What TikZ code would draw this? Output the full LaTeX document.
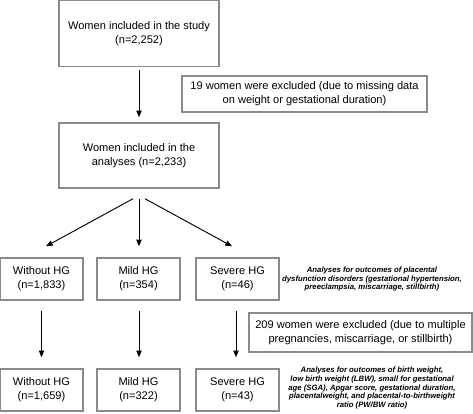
\documentclass[tikz,border=0pt]{standalone}
\usepackage{fontspec}
\setmainfont{Liberation Sans}
\usepackage{tikz}
\usetikzlibrary{arrows.meta}
\usetikzlibrary{calc}
\definecolor{boxgray}{RGB}{138,138,138}

\begin{document}
\begin{tikzpicture}[x=0.75pt,y=0.75pt,yscale=-1,xscale=1,
  flowbox/.style={draw=boxgray,line width=1.1pt,fill=white,align=center,inner sep=0pt,
    font=\fontsize{8.3}{10.5}\selectfont},
  rowbox/.style={flowbox,minimum width=62.25pt,minimum height=31.5pt},
  notetext/.style={align=center,inner sep=0pt,font=\fontsize{5.8}{6.5}\selectfont\bfseries\itshape},
  arr/.style={line width=0.7pt,-{Triangle[length=5pt,width=4pt]}}]
%set diagram left start at 0, and has height of 413
\useasboundingbox (0,0) rectangle (473,413);

%Shape: Rectangle [study]
\node (study) [flowbox,minimum width=120pt,minimum height=49.5pt] at (139,33.5) {Women included in the study\\(n=2,252)};
%Shape: Rectangle [analyses]
\node (analyses) [flowbox,minimum width=120pt,minimum height=48.75pt] at (139,155.5) {Women included in the\\analyses (n=2,233)};
%Shape: Rectangle [excluded first]
\node (exclA) [flowbox,minimum width=183.75pt,minimum height=27pt] at (304.5,94) {19 women were excluded (due to missing data\\on weight or gestational duration)};

%Shape: Rectangle [first row]
\node (withoutA) [rowbox] at (41.5,279) {Without HG\\(n=1,833)};
\node (mildA) [rowbox] at (138.5,279) {Mild HG\\(n=354)};
\node (severeA) [rowbox] at (237.5,279) {Severe HG\\(n=46)};
%Shape: Rectangle [excluded second]
\node (exclB) [flowbox,minimum width=167.25pt,minimum height=29.25pt] at (360.5,332.5) {209 women were excluded (due to multiple\\pregnancies, miscarriage, or stillbirth)};
%Shape: Rectangle [second row]
\node (withoutB) [rowbox] at (41.5,390) {Without HG\\(n=1,659)};
\node (mildB) [rowbox] at (138.5,390) {Mild HG\\(n=322)};
\node (severeB) [rowbox] at (237.5,390) {Severe HG\\(n=43)};

% Text Node
\node (noteA) [notetext] at (372,279) {Analyses for outcomes of placental\\dysfunction disorders (gestational hypertension,\\preeclampsia, miscarriage, stillbirth)};
% Text Node
\node (noteB) [notetext] at (372,388) {Analyses for outcomes of birth weight,\\low birth weight (LBW), small for gestational\\age (SGA), Apgar score, gestational duration,\\placentalweight, and placental-to-birthweight\\ratio (PW/BW ratio)};

%Straight Lines
\draw [arr] ($(study.south)+(0,3)$) -- ($(analyses.north)+(0,-5)$);
\draw [arr] ($(analyses.south)+(-6,10)$) -- ($(withoutA.north)+(4.5,-11)$);
\draw [arr] ($(analyses.south)+(0,10)$) -- ($(mildA.north)+(0.5,-11)$);
\draw [arr] ($(analyses.south)+(6,10)$) -- ($(severeA.north)+(-5.5,-11)$);
%Straight Lines
\draw [arr] ($(withoutA.south)+(0,10)$) -- ($(withoutB.north)+(0,-11)$);
\draw [arr] ($(mildA.south)+(0.5,10)$) -- ($(mildB.north)+(0.5,-11)$);
\draw [arr] ($(severeA.south)+(-1.5,10)$) -- ($(severeB.north)+(-1.5,-11)$);

\end{tikzpicture}
\end{document}
